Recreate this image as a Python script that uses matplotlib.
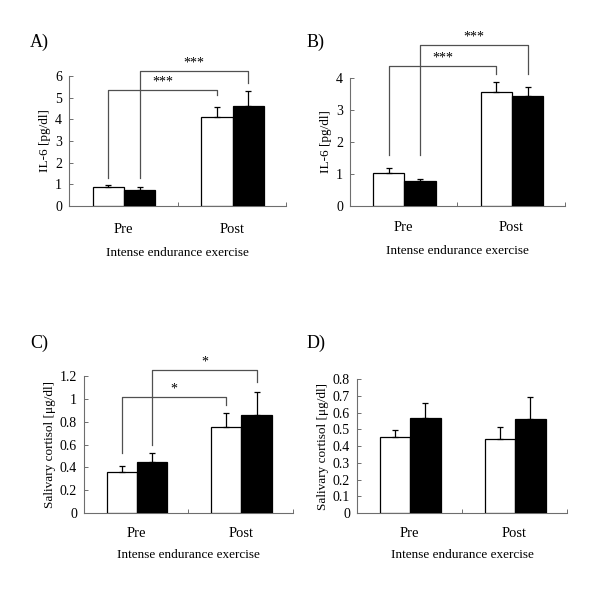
import matplotlib
matplotlib.use("Agg")
import matplotlib.pyplot as plt
import numpy as np

plt.rcParams['font.family'] = ['Liberation Serif', 'DejaVu Serif']

categories = ["Pre", "Post"]
xlabel_text = "Intense endurance exercise"

# Panel A: IL-6
A_white = [0.86, 4.12]
A_white_err = [0.11, 0.43]
A_black = [0.75, 4.63]
A_black_err = [0.11, 0.69]
A_yticks = [0, 1, 2, 3, 4, 5, 6]
A_ticklabels = ["0", "1", "2", "3", "4", "5", "6"]

# Panel B: IL-6
B_white = [1.02, 3.56]
B_white_err = [0.16, 0.32]
B_black = [0.79, 3.44]
B_black_err = [0.07, 0.28]
B_yticks = [0, 1, 2, 3, 4]
B_ticklabels = ["0", "1", "2", "3", "4"]

# Panel C: salivary cortisol
C_white = [0.357, 0.75]
C_white_err = [0.053, 0.13]
C_black = [0.445, 0.858]
C_black_err = [0.078, 0.20]
C_yticks = [0, 0.2, 0.4, 0.6, 0.8, 1.0, 1.2]
C_ticklabels = ["0", "0.2", "0.4", "0.6", "0.8", "1", "1.2"]

# Panel D: salivary cortisol
D_white = [0.454, 0.442]
D_white_err = [0.044, 0.069]
D_black = [0.565, 0.561]
D_black_err = [0.094, 0.134]
D_yticks = [0, 0.1, 0.2, 0.3, 0.4, 0.5, 0.6, 0.7, 0.8]
D_ticklabels = ["0", "0.1", "0.2", "0.3", "0.4", "0.5", "0.6", "0.7", "0.8"]

# Significance brackets: (series, bracket y, left leg bottom, right leg bottom, label)
A_brackets = [("white", 5.35, 1.28, 5.12, "***"), ("black", 6.25, 1.28, 5.70, "***")]
B_brackets = [("white", 4.39, 1.59, 4.13, "***"), ("black", 5.03, 1.59, 4.13, "***")]
C_brackets = [("white", 1.017, 0.523, 0.945, "*"), ("black", 1.25, 0.596, 1.148, "*")]
D_brackets = []

fig = plt.figure(figsize=(6.0, 5.9), dpi=100)

AXIS_COLOR = "#6e6e6e"
BAR_W = 0.29
CENTERS = np.array([0.507, 1.507])


def panel(rect, letter, white, werr, black, berr, yticks, yticklabels,
          ylabel, brackets, letter_pos, cat_pad, xlab_pad):
    ax = fig.add_axes(rect)
    xw = CENTERS - BAR_W / 2
    xb = CENTERS + BAR_W / 2
    ax.bar(xw, white, BAR_W, color="white", edgecolor="black", linewidth=0.9, zorder=3)
    ax.bar(xb, black, BAR_W, color="black", edgecolor="black", linewidth=0.9, zorder=3)
    ax.errorbar(xw, white, yerr=[np.zeros(len(white)), werr], fmt="none",
                ecolor="black", elinewidth=0.9, capsize=2.5, capthick=0.9, zorder=4)
    ax.errorbar(xb, black, yerr=[np.zeros(len(black)), berr], fmt="none",
                ecolor="black", elinewidth=0.9, capsize=2.5, capthick=0.9, zorder=4)
    ax.set_xlim(0, 2)
    ax.set_ylim(yticks[0], yticks[-1])
    ax.set_yticks(yticks)
    ax.set_yticklabels(yticklabels)
    ax.set_xticks([1, 2])
    ax.set_xticklabels(["", ""])
    ax.set_xticks(CENTERS - 0.007, minor=True)
    ax.set_xticklabels(categories, minor=True)
    ax.tick_params(axis="x", which="major", direction="in", length=3,
                   color=AXIS_COLOR, width=0.7)
    ax.tick_params(axis="x", which="minor", length=0, pad=cat_pad, labelsize=10.5)
    ax.tick_params(axis="y", direction="in", length=3, color=AXIS_COLOR,
                   width=0.7, pad=5, labelsize=10)
    for s in ["top", "right"]:
        ax.spines[s].set_visible(False)
    for s in ["left", "bottom"]:
        ax.spines[s].set_color(AXIS_COLOR)
        ax.spines[s].set_linewidth(0.8)
    ax.set_ylabel(ylabel, fontsize=9.5, labelpad=3)
    ax.set_xlabel(xlabel_text, fontsize=9.5, labelpad=xlab_pad)
    for series, yb, lb, rb, lab in brackets:
        xs = xw if series == "white" else xb
        x0, x1 = xs[0], xs[1]
        ax.plot([x0, x0, x1, x1], [lb, yb, yb, rb], color="#505050",
                linewidth=0.9, clip_on=False, zorder=5)
        ax.annotate(lab, xy=((x0 + x1) / 2, yb), xytext=(0, 1),
                    textcoords="offset points", ha="center", va="bottom",
                    fontsize=10, annotation_clip=False)
    fig.text(letter_pos[0], letter_pos[1], letter, fontsize=13,
             ha="left", va="center")
    return ax


panel([0.115, 0.6508, 0.3617, 0.2203], "A)", A_white, A_white_err, A_black,
      A_black_err, A_yticks, A_ticklabels, "IL-6 [pg/dl]", A_brackets,
      (30 / 600, 1 - 42 / 590), 12, 8)
panel([0.5833, 0.6508, 0.3583, 0.2170], "B)", B_white, B_white_err, B_black,
      B_black_err, B_yticks, B_ticklabels, "IL-6 [pg/dl]", B_brackets,
      (307 / 600, 1 - 42 / 590), 10.5, 8)
panel([0.14, 0.1305, 0.3483, 0.2322], "C)", C_white, C_white_err, C_black,
      C_black_err, C_yticks, C_ticklabels, "Salivary cortisol [\u03bcg/dl]",
      C_brackets, (30 / 600, 1 - 343 / 590), 10, 6.5)
panel([0.595, 0.1305, 0.35, 0.2271], "D)", D_white, D_white_err, D_black,
      D_black_err, D_yticks, D_ticklabels, "Salivary cortisol [\u03bcg/dl]",
      D_brackets, (307 / 600, 1 - 343 / 590), 10, 6.5)

fig.savefig("out.png", dpi=100, facecolor="white")
